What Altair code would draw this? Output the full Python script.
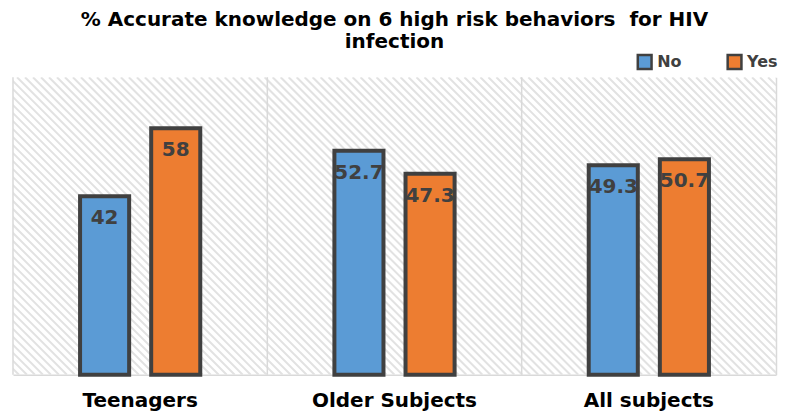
import altair as alt
import pandas as pd

groups = ["Teenagers", "Older Subjects", "All subjects"]
answers = ["No", "Yes"]
no_values = [42, 52.7, 49.3]
yes_values = [58, 47.3, 50.7]
colors = ["#5B9BD5", "#ED7D31"]
title_lines = ["% Accurate knowledge on 6 high risk behaviors\u00a0 for HIV", "infection"]

rows = []
for g, n, y in zip(groups, no_values, yes_values):
    rows.append({"group": g, "answer": "No", "value": n, "label": f"{n:g}"})
    rows.append({"group": g, "answer": "Yes", "value": y, "label": f"{y:g}"})
df = pd.DataFrame(rows)
gdf = pd.DataFrame({"group": groups})

W, H = 764, 298
YMAX = 70
FONT = "DejaVu Sans"

# decorative diagonal hatch of the plot background
hatch = alt.Chart(alt.sequence(-300, 770, 8, as_="a")).transform_calculate(
    a2=f"datum.a + {H}", top=f"{H}", bottom="0"
).mark_rule(color="#e2e2e2", strokeWidth=2, clip=True).encode(
    x=alt.X("a:Q", scale=alt.Scale(domain=[0, W], nice=False, zero=False), axis=None),
    x2="a2:Q",
    y=alt.Y("top:Q", scale=alt.Scale(domain=[0, H], nice=False),
            axis=alt.Axis(orient="right", labels=False, ticks=False, grid=False,
                          title=None, domainColor="#d9d9d9", domainWidth=1.5)),
    y2="bottom:Q",
)

xscale = alt.Scale(domain=groups, paddingInner=0, paddingOuter=0)
xaxis = alt.Axis(title=None, labelAngle=0, labelFontSize=20, labelFontWeight="bold",
                 labelColor="#000000", labelFont=FONT, labelPadding=16, ticks=False,
                 domainColor="#d9d9d9", domainWidth=1.5, grid=False)
xoff = alt.XOffset("answer:N", sort=answers,
                   scale=alt.Scale(domain=answers, paddingInner=0.31, paddingOuter=0.943))
yenc = alt.Y("value:Q", scale=alt.Scale(domain=[0, YMAX], nice=False), axis=None)

seps = alt.Chart(gdf).mark_rule(color="#d9d9d9", strokeWidth=1.5).encode(
    x=alt.X("group:N", sort=groups, scale=xscale, bandPosition=0, axis=xaxis),
    y=alt.value(0),
    y2=alt.value(H),
)

bars = alt.Chart(df).mark_bar(stroke="#404040", strokeWidth=4).encode(
    x=alt.X("group:N", sort=groups, scale=xscale, axis=xaxis),
    xOffset=xoff,
    y=yenc,
    color=alt.Color("answer:N", scale=alt.Scale(domain=answers, range=colors),
                    legend=alt.Legend(title=None, orient="none", legendX=624, legendY=-24,
                                      direction="horizontal", symbolType="square",
                                      symbolSize=190, symbolStrokeColor="#404040",
                                      symbolStrokeWidth=2.5, labelFontSize=16,
                                      labelFontWeight="bold", labelColor="#404040",
                                      labelFont=FONT, columnPadding=40, labelOffset=4)),
)

labels = alt.Chart(df).mark_text(
    baseline="alphabetic", dy=28, fontSize=20, fontWeight="bold", color="#404040", font=FONT
).encode(
    x=alt.X("group:N", sort=groups, scale=xscale, axis=xaxis),
    xOffset=xoff,
    y=yenc,
    text="label:N",
)

inner = alt.layer(seps, bars, labels)

chart = alt.layer(hatch, inner).resolve_scale(x="independent", y="independent").properties(
    width=W,
    height=H,
    padding={"left": 4, "right": 0, "top": 2, "bottom": 0},
    title=alt.TitleParams(text=title_lines, fontSize=20, font=FONT, fontWeight="bold",
                          color="#000000", anchor="middle", offset=1, lineHeight=22),
    background="white",
).configure_view(stroke=None)

chart.save("out.html", embed_options={"renderer": "svg", "actions": False})
